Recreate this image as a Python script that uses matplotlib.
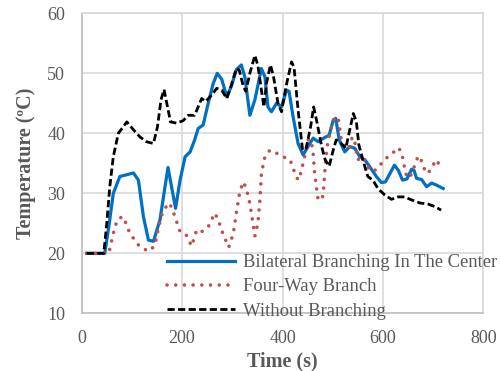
import matplotlib
matplotlib.use("Agg")
import matplotlib.pyplot as plt

plt.rcParams["font.family"] = ["Liberation Serif", "DejaVu Serif"]

# Bilateral Branching In The Center
t_bilateral = [10, 46, 55, 63, 76, 90, 103, 113, 123, 133,
               143, 156, 166, 172, 179, 187, 196, 206, 216, 225,
               232, 242, 252, 262, 270, 279, 289, 298, 308, 318,
               325, 335, 345, 358, 365, 371, 378, 388, 398, 408,
               413, 421, 431, 441, 451, 461, 471, 482, 493, 501,
               506, 513, 524, 534, 544, 554, 564, 574, 587, 597,
               605, 614, 623, 631, 639, 648, 657, 662, 667, 677,
               687, 697, 706, 720]
T_bilateral = [20, 20, 25, 30, 32.8, 33.1, 33.4, 32.2, 26.1, 22.2,
               22, 25.6, 31.1, 34.3, 31.1, 27.5, 32.2, 36.1, 36.9, 38.9,
               40.8, 41.4, 45, 48.3, 50, 49, 46.1, 47.8, 50.6, 51.4,
               49.4, 43, 45.6, 50.8, 49.4, 44.4, 43.6, 45, 44.4, 47.2,
               47.0, 42.8, 38.3, 36.4, 37.8, 39.2, 38.6, 39.2, 39.7, 42.2,
               42.5, 38.9, 36.9, 37.8, 37.5, 36.1, 35.6, 34.4, 32.8, 31.8,
               31.9, 33.3, 34.7, 33.8, 32.2, 32.4, 34, 33.8, 32.5, 32.3,
               31.1, 31.7, 31.4, 30.8]

# Four-Way Branch
t_fourway = [10, 54, 60, 66, 73, 83, 93, 103, 113, 123,
             136, 146, 152, 159, 166, 174, 180, 189, 196, 208,
             219, 229, 239, 252, 265, 272, 282, 293, 302, 308,
             315, 322, 328, 335, 340, 345, 351, 355, 358, 365,
             375, 388, 401, 415, 421, 425, 431, 436, 440, 446,
             451, 457, 461, 464, 469, 471, 478, 481, 484, 487,
             491, 495, 501, 506, 511, 517, 524, 532, 539, 544,
             550, 560, 570, 580, 590, 600, 610, 620, 628, 635,
             640, 645, 653, 660, 665, 670, 675, 679, 687, 693,
             700, 706, 713]
T_fourway = [20, 20, 22.2, 24.4, 25.8, 26.1, 23.9, 22.5, 21.4, 20.7,
             20.4, 21.4, 23.9, 26.3, 27.5, 28.4, 27.5, 25.3, 23.6, 23.1,
             21.2, 23.9, 23.6, 24.4, 26.7, 25.6, 23.1, 21, 23.3, 26.7,
             30.3, 31.9, 30.8, 28.3, 25.6, 22.9, 25, 28.9, 33.3, 36.1,
             37.2, 36.7, 36.1, 35.6, 34.2, 33.3, 32.2, 33.3, 34.7, 36.8,
             38.9, 38.9, 36.7, 33.3, 30.1, 28.9, 29, 29.7, 33.3, 36.4,
             38.9, 40.3, 42, 42.8, 42.5, 38.9, 37.8, 37.3, 39.4, 38.5,
             35.6, 36.1, 34.4, 33.6, 34.2, 35.3, 36.1, 36.7, 37.6, 37.2,
             35.8, 33.3, 32.5, 33.9, 35, 36.2, 35.9, 34.7, 33.3, 33.7,
             34.7, 35.6, 34.7]

# Without Branching
t_without = [10, 44, 50, 56, 63, 73, 90, 103, 116, 129,
             143, 151, 158, 164, 171, 177, 189, 202, 212, 225,
             239, 247, 259, 269, 279, 289, 298, 308, 314, 322,
             327, 335, 345, 351, 358, 363, 368, 376, 382, 391,
             398, 407, 418, 423, 431, 440, 447, 456, 462, 469,
             478, 485, 493, 501, 507, 517, 526, 534, 541, 547,
             552, 560, 570, 580, 590, 604, 617, 630, 643, 657,
             673, 690, 703, 716]
T_without = [20, 20, 25, 31.1, 36.1, 40, 41.9, 40.6, 39.4, 38.6,
             38.3, 41.1, 45.6, 47.3, 44.4, 41.9, 41.7, 42.1, 43, 43,
             45.8, 45.3, 46.4, 47.5, 47.2, 45.8, 48, 50.8, 50.5, 47.8,
             47, 50, 53, 51.3, 47.2, 44.4, 48.3, 51.4, 49.5, 45,
             43.6, 47.8, 51.9, 51, 43.9, 37.2, 37.5, 41.1, 44.4, 41.7,
             37.8, 35.6, 34.5, 37.2, 38.9, 38.3, 37.5, 40.6, 43.3, 42,
             38.1, 35.6, 32.8, 32.2, 30.8, 29.7, 29, 29.4, 29.4, 28.9,
             28.4, 28.2, 27.8, 27.2]

x_ticks = [0, 200, 400, 600, 800]
y_ticks = [10, 20, 30, 40, 50, 60]

GRID = "#d9d9d9"
TXT = "#595959"

fig = plt.figure(figsize=(5.02, 3.71), dpi=100)
ax = fig.add_axes([0.1627, 0.1555, 0.8001, 0.8086])

ax.plot(t_bilateral, T_bilateral, color="#0070c0", lw=2.3,
        solid_joinstyle="round", label="Bilateral Branching In The Center")
ax.plot(t_fourway, T_fourway, color="#c0504d", lw=2.6,
        linestyle=(0, (0.01, 2.4)), dash_capstyle="round",
        label="Four-Way Branch")
ax.plot(t_without, T_without, color="black", lw=2.0,
        linestyle=(0, (2.6, 1.2)), label="Without Branching")

ax.set_xlim(0, 800)
ax.set_ylim(10, 60)
ax.set_xticks(x_ticks)
ax.set_yticks(y_ticks)
ax.grid(True, color=GRID, lw=1.2)
ax.set_axisbelow(True)
for sp in ax.spines.values():
    sp.set_color(GRID)
    sp.set_linewidth(1.2)
ax.spines["left"].set_color("#bfbfbf")
ax.spines["bottom"].set_color("#bfbfbf")
ax.tick_params(length=0, labelsize=13, labelcolor=TXT, pad=12)

ax.set_xlabel("Time (s)", fontsize=14.5, fontweight="bold", color=TXT, labelpad=3)
ax.set_ylabel("Temperature (ºC)", fontsize=14.5, fontweight="bold", color=TXT, labelpad=8)

leg = ax.legend(loc="upper left", bbox_to_anchor=(0.333, 0.3154),
                bbox_transform=fig.transFigure, frameon=False, fontsize=13.4,
                handlelength=3.65, handletextpad=0.43, labelspacing=0.4,
                borderpad=0, borderaxespad=0)
for txt in leg.get_texts():
    txt.set_color(TXT)

fig.savefig("out.png", dpi=100)
